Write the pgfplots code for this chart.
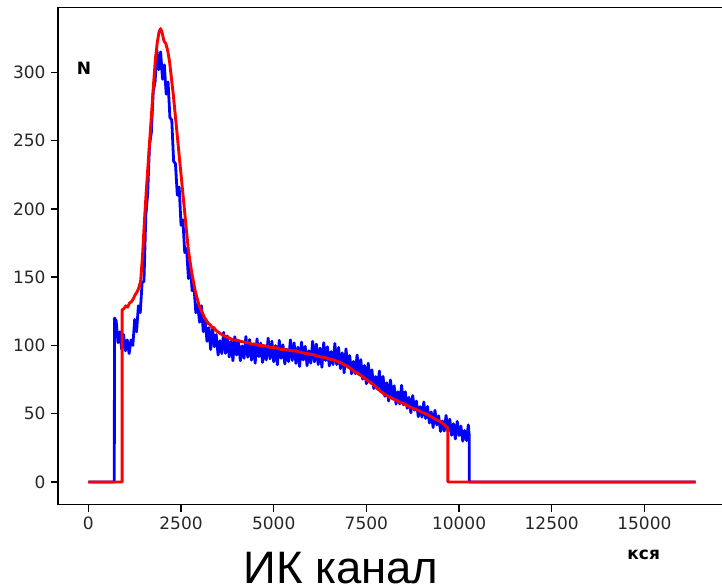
\documentclass[border=0pt]{standalone}
\usepackage{fontspec}
\setmainfont{DejaVu Sans}
\newfontfamily\lib{Liberation Sans}
\usepackage{pgfplots}
\pgfplotsset{compat=1.18}

\begin{document}
\begin{tikzpicture}
\begin{axis}[
    at={(0pt,0pt)}, anchor=south west,
    scale only axis,
    width=668pt, height=497pt,
    xmin=-819, xmax=17202,
    ymin=-16.5, ymax=347.5,
    xtick={0,2500,5000,7500,10000,12500,15000},
    ytick={0,50,100,150,200,250,300},
    xtick pos=bottom, ytick pos=left,
    tick align=outside,
    major tick length=7pt,
    every tick/.style={black, line width=1.4pt},
    axis line style={black, line width=1.5pt},
    tick label style={font=\fontsize{17}{20}\selectfont, text=black!85},
    /pgf/number format/assume math mode=true,
    /pgf/number format/1000 sep={},
    scaled x ticks=false,
    xticklabel style={yshift=-2pt},
    yticklabel style={xshift=-2pt},
]
% blue: noisy series
\addplot[blue, line width=2.8pt, line join=round] coordinates {
(0,0)(700,0)(705,120)
(750,118)(800,102)(850,110)(900,97)(950,108)(1000,96)(1050,104)(1100,94)(1150,104)(1200,100)
(1250,119)(1300,110)(1350,129)(1400,124)(1450,146)(1500,147)(1550,195)(1600,211)(1650,247)(1700,256)
(1750,286)(1800,293)(1850,316)(1900,302)(1950,315)(2000,295)(2050,305.5)(2100,284)(2150,293)(2200,267)
(2250,265)(2300,235)(2350,233)(2400,210)(2450,216)(2500,188)(2550,192)(2600,168)(2650,171)(2700,149)
(2750,159)(2800,140)(2850,143)(2900,124)(2950,130)(3000,117)(3050,129)(3100,110)(3150,120)(3200,103)
(3250,113)(3300,97)(3350,113)(3400,99)(3450,108)(3500,93)(3550,103.5)(3600,94)(3650,109.6)(3700,94.2)
(3750,106.9)(3800,91.5)(3850,103.1)(3900,88.8)(3950,106.4)(4000,93)(4050,102.9)(4100,88.8)(4150,99.7)(4200,90.6)
(4250,106.5)(4300,91.4)(4350,104.3)(4400,89.2)(4450,101.1)(4500,87)(4550,104.9)(4600,91.8)(4650,101.7)(4700,87.6)
(4750,98.5)(4800,89.4)(4850,105.3)(4900,90.2)(4950,103.1)(5000,88)(5050,99.9)(5100,85.8)(5150,103.7)(5200,90.6)
(5250,100.5)(5300,86.4)(5350,97.3)(5400,88.2)(5450,104.1)(5500,89)(5550,101.9)(5600,86.8)(5650,98.7)(5700,84.6)
(5750,102.5)(5800,89.4)(5850,99.3)(5900,85.2)(5950,96.1)(6000,87)(6050,103)(6100,88)(6150,101)(6200,86)
(6250,98)(6300,84)(6350,102)(6400,89)(6450,99)(6500,85)(6550,95.5)(6600,86)(6650,101.5)(6700,86)
(6750,98.5)(6800,83)(6850,94.5)(6900,80)(6950,97.5)(7000,84)(7050,92.6)(7100,79.2)(7150,88.3)(7200,79.4)
(7250,93)(7300,78.7)(7350,89.6)(7400,75.3)(7450,85.3)(7500,71.9)(7550,87)(7600,74.2)(7650,82.1)(7700,68.4)
(7750,77.2)(7800,68)(7850,81.3)(7900,66.7)(7950,77.3)(8000,62.7)(8050,72.7)(8100,59.3)(8150,74.7)(8200,62.2)
(8250,70.4)(8300,57)(8350,66.1)(8400,57.2)(8450,70.8)(8500,56.5)(8550,66.1)(8600,54)(8650,62)(8700,50.7)
(8750,63.3)(8800,52.6)(8850,59.2)(8900,47.8)(8950,55.2)(9000,47.5)(9050,58.6)(9100,46.5)(9150,55.3)(9200,43.2)
(9250,51.3)(9300,39.9)(9350,52.5)(9400,41.8)(9450,48.4)(9500,37)(9550,44.7)(9600,37.3)(9650,48.7)(9700,36.9)
(9750,46)(9800,34.2)(9850,42.6)(9900,31.5)(9950,44.4)(10000,34)(10050,41)(10100,29.9)(10150,37.7)(10200,30.3)
(10250,41.8)(10275,34)(10275,0)(16383,0)
};
% red: smooth series
\addplot[red, line width=2.9pt, line join=round] coordinates {
(0,0)(910,0)(910,126)(960,127)(1010,129)(1060,128)(1110,131)(1160,132)(1210,134)(1260,137)
(1310,139)(1360,142)(1410,147)(1460,165)(1510,190)(1560,212)(1610,232)(1660,252)(1710,272)(1760,292)
(1810,310)(1860,322)(1910,330)(1950,332)(1990,329)(2040,323)(2090,321)(2140,316)(2190,308)(2240,296)
(2290,284)(2340,270)(2390,256)(2440,242)(2490,228)(2540,214)(2590,200)(2640,186)(2690,172)(2740,162)
(2790,153)(2840,146)(2890,139)(2940,134)(2990,129)(3040,126)(3090,123)(3140,120)(3190,118)(3240,116)
(3290,115)(3340,113)(3390,113)(3440,111)(3490,110)(3600,108)(3700,106.5)(3800,105.5)(3900,104)(4000,104)
(4100,103)(4200,102.5)(4300,102)(4400,101)(4500,101)(4600,100)(4700,100)(4800,99.5)(4900,98.5)(5000,98.5)
(5100,98)(5200,97)(5300,97)(5400,96.5)(5500,96)(5600,96)(5700,95)(5800,94.5)(5900,94)(6000,93.5)
(6100,93)(6200,92)(6300,91.5)(6400,91)(6500,90)(6600,89.5)(6700,88.5)(6800,87.5)(6900,86)(7000,84.5)
(7100,82.5)(7200,80.5)(7300,79)(7400,77)(7500,75)(7600,73)(7700,71)(7800,68.5)(7900,66)(8000,64)
(8100,62.5)(8200,61)(8300,60)(8400,58.5)(8500,57.5)(8600,56)(8700,54.5)(8800,53.5)(8900,52.5)(9000,51)
(9100,50)(9200,48.5)(9300,47)(9400,45.5)(9500,44)(9600,42)(9700,39.5)(9700,0)(16383,0)
};
\node[font=\bfseries\fontsize{17}{20}\selectfont] at (axis cs:-116,303) {N};
\end{axis}
\node[anchor=base, font=\bfseries\fontsize{17}{20}\selectfont] at (585.7pt,-54.8pt) {кся};
\node[anchor=base, inner sep=0pt, font=\lib\fontsize{45.5}{50}\selectfont] at (283pt,-79.5pt) {ИК канал};
\pgfresetboundingbox
\path[use as bounding box] (-58pt,-83.5pt) rectangle (664pt,504.5pt);
\end{tikzpicture}
\end{document}
